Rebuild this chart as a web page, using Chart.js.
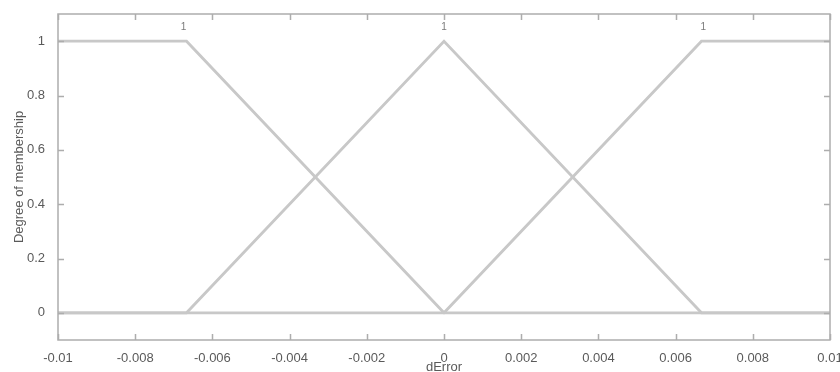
<!DOCTYPE html>
<html>
<head>
<meta charset="utf-8">
<script src="https://cdn.jsdelivr.net/npm/chart.js@4/dist/chart.umd.min.js"></script>
<style>
  html, body { margin: 0; padding: 0; background: #ffffff; overflow: hidden; }
  #wrap { width: 840px; height: 372px; position: relative; }
</style>
</head>
<body>
<div id="wrap"><canvas id="c" width="840" height="372"></canvas></div>
<script>
// Membership functions of the input dError
const mfNames = ['1', '1', '1'];
const mfLabelX = [-0.00675, 0, 0.00672];

const mf1X = [-0.01, -0.00667, 0, 0.01];
const mf1Y = [1, 1, 0, 0];

const mf2X = [-0.01, -0.00667, 0, 0.00667, 0.01];
const mf2Y = [0, 0, 1, 0, 0];

const mf3X = [-0.01, 0, 0.00667, 0.01];
const mf3Y = [0, 0, 1, 1];

const xTicks = [-0.01, -0.008, -0.006, -0.004, -0.002, 0, 0.002, 0.004, 0.006, 0.008, 0.01];
const xTickLabels = ['-0.01', '-0.008', '-0.006', '-0.004', '-0.002', '0', '0.002', '0.004', '0.006', '0.008', '0.01'];
const yTicks = [0, 0.2, 0.4, 0.6, 0.8, 1];
const yTickLabels = ['0', '0.2', '0.4', '0.6', '0.8', '1'];

const xTitle = 'dError';
const yTitle = 'Degree of membership';

const lineColor = '#c8c8c8';
const axisColor = '#adadad';
const textColor = '#5a5a5a';
const fontFamily = '"Liberation Sans", Arial, sans-serif';

const toPoints = (xs, ys) => xs.map((x, i) => ({ x: x, y: ys[i] }));

// Box around the plot with inward ticks on all four sides, plus MF names
const boxPlugin = {
  id: 'box',
  afterDraw(chart) {
    const { ctx, chartArea: a, scales } = chart;
    const xs = scales.x, ys = scales.y;
    ctx.save();
    ctx.strokeStyle = axisColor;
    ctx.lineWidth = 1.5;
    ctx.strokeRect(a.left, a.top, a.right - a.left, a.bottom - a.top);
    const len = 6;
    ctx.beginPath();
    xTicks.forEach(v => {
      const px = Math.round(xs.getPixelForValue(v)) + 0.5;
      ctx.moveTo(px, a.bottom); ctx.lineTo(px, a.bottom - len);
      ctx.moveTo(px, a.top); ctx.lineTo(px, a.top + len);
    });
    yTicks.forEach(v => {
      const py = Math.round(ys.getPixelForValue(v)) + 0.5;
      ctx.moveTo(a.left, py); ctx.lineTo(a.left + len, py);
      ctx.moveTo(a.right, py); ctx.lineTo(a.right - len, py);
    });
    ctx.stroke();

    ctx.fillStyle = '#7a7a7a';
    ctx.font = '10px ' + fontFamily;
    ctx.textAlign = 'center';
    ctx.textBaseline = 'middle';
    mfNames.forEach((n, i) => {
      ctx.fillText(n, xs.getPixelForValue(mfLabelX[i]), ys.getPixelForValue(1.05));
    });
    ctx.restore();
  }
};

const ds = (xs, ys) => ({
  data: toPoints(xs, ys),
  borderColor: lineColor,
  borderWidth: 2.8,
  pointRadius: 0,
  fill: false,
  tension: 0
});

new Chart(document.getElementById('c'), {
  type: 'line',
  data: { datasets: [ds(mf1X, mf1Y), ds(mf2X, mf2Y), ds(mf3X, mf3Y)] },
  options: {
    responsive: false,
    animation: false,
    layout: { padding: { top: 14, right: 10, left: 6, bottom: 0 } },
    plugins: { legend: { display: false }, tooltip: { enabled: false } },
    scales: {
      x: {
        type: 'linear',
        min: -0.01,
        max: 0.01,
        afterBuildTicks: s => { s.ticks = xTicks.map(v => ({ value: v })); },
        afterFit: s => { s.height = 32; s.paddingLeft = 0; s.paddingRight = 0; },
        grid: { display: false },
        border: { display: false },
        ticks: {
          color: textColor,
          font: { family: fontFamily, size: 13 },
          padding: 3,
          maxRotation: 0,
          autoSkip: false,
          callback: (v, i) => xTickLabels[i]
        },
        title: {
          display: true,
          text: xTitle,
          color: textColor,
          font: { family: fontFamily, size: 13 },
          padding: { top: -4, bottom: -3 }
        }
      },
      y: {
        type: 'linear',
        min: -0.1,
        max: 1.1,
        afterBuildTicks: s => { s.ticks = yTicks.map(v => ({ value: v })); },
        afterFit: s => { s.width = 52; },
        grid: { display: false },
        border: { display: false },
        ticks: {
          color: textColor,
          font: { family: fontFamily, size: 13 },
          padding: 5,
          callback: (v, i) => yTickLabels[i]
        },
        title: {
          display: true,
          text: yTitle,
          color: textColor,
          font: { family: fontFamily, size: 13 },
          padding: { top: 6, bottom: 0 }
        }
      }
    }
  },
  plugins: [boxPlugin]
});
</script>
</body>
</html>
